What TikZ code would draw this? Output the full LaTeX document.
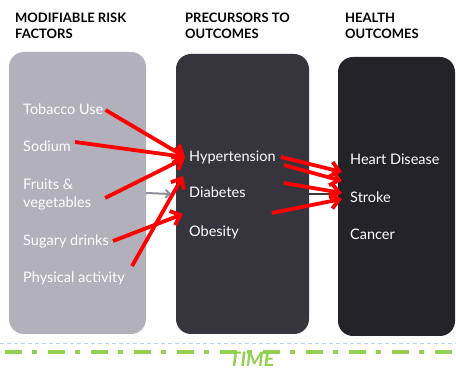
\documentclass[tikz,border=0pt]{standalone}
\usepackage{fontspec}
\setmainfont{Lato}
\usetikzlibrary{arrows.meta}
\definecolor{riskgray}{HTML}{B1B0BB}
\definecolor{precdark}{HTML}{36353E}
\definecolor{outdark}{HTML}{242328}
\definecolor{timegreen}{HTML}{92D050}
\definecolor{guideblue}{HTML}{B9D1E8}
\definecolor{linkgray}{HTML}{8E8D9B}
\definecolor{linkdark}{HTML}{3A3A40}
\begin{document}
\begin{tikzpicture}[x=1pt,y=-1pt,
  panel/.style={rounded corners=15pt, inner sep=0pt, outer sep=0pt},
  head/.style={anchor=north west, font=\bfseries\fontsize{13}{16}\selectfont, align=left, inner sep=0pt},
  item/.style={anchor=base west, text=white, font=\fontsize{14.5}{19}\selectfont, inner sep=0pt},
  redlink/.style={draw=red, line width=3.8pt, -{Straight Barb[length=8.5pt,width=15pt]}},
  graylink/.style={draw=linkgray, line width=2pt, -{Straight Barb[length=4pt,width=8pt]}},
  darklink/.style={draw=linkdark, line width=2pt},
]
\useasboundingbox (0,0) rectangle (456,371);
\fill[white] (0,0) rectangle (456,371);

% column panels
\node[panel, fill=riskgray, minimum width=137pt, minimum height=282pt] (risk) at (77.5,193) {};
\node[panel, fill=precdark, minimum width=133pt, minimum height=280pt] (prec) at (242.5,194) {};
\node[panel, fill=outdark, minimum width=117pt, minimum height=279pt] (outc) at (396.5,196.5) {};

% column headings
\node[head] (h1) at (15,12.5) {MODIFIABLE RISK\\FACTORS};
\node[head] (h2) at (185,12.5) {PRECURSORS TO\\OUTCOMES};
\node[head] (h3) at (345,12.5) {HEALTH\\OUTCOMES};

% modifiable risk factors
\node[item] (tob) at (23,115) {Tobacco Use};
\node[item] (sod) at (23,152) {Sodium};
\node[item] (fru) at (23,190) {Fruits \&};
\node[item] (veg) at (23,208) {vegetables};
\node[item] (sug) at (23,246) {Sugary drinks};
\node[item] (phy) at (23,283) {Physical activity};

% precursors
\node[item] (hyp) at (189,162) {Hypertension};
\node[item] (dia) at (189,198) {Diabetes};
\node[item] (obe) at (189,237) {Obesity};

% outcomes
\node[item] (hea) at (350,165) {Heart Disease};
\node[item] (str) at (350,203) {Stroke};
\node[item] (can) at (350,240) {Cancer};

% links between panels
\draw[graylink] (risk.east) -- ([xshift=-5pt]prec.west);
\draw[darklink] (prec.east) -- (prec.east -| outc.west);

% risk factors to precursors
\draw[redlink] ([xshift=2pt,yshift=5pt]tob.base east) -- ([xshift=-4pt,yshift=5pt]hyp.base west);
\draw[redlink] ([xshift=4pt,yshift=10pt]sod.base east) -- ([xshift=-4pt,yshift=5pt]hyp.base west);
\draw[redlink] ([xshift=14pt,yshift=10pt]veg.base east) -- ([xshift=-4pt,yshift=4pt]hyp.base west);
\draw[redlink] ([xshift=4pt,yshift=5pt]sug.base east) -- ([xshift=-6pt,yshift=23pt]obe.base west);
\draw[redlink] ([xshift=7pt,yshift=17pt]phy.base east) -- ([xshift=-6pt,yshift=22pt]dia.base west);

% precursors to outcomes
\draw[redlink] ([xshift=5pt,yshift=5pt]hyp.base east) -- ([xshift=-8pt,yshift=-7pt]hea.base west);
\draw[redlink] ([xshift=8pt,yshift=-3pt]hyp.base east) -- ([xshift=-8pt,yshift=22pt]str.base west);
\draw[redlink] ([xshift=8pt,yshift=-21pt]hyp.base east) -- ([xshift=-8pt,yshift=10pt]str.base west);
\draw[redlink] ([xshift=26pt,yshift=-15pt]dia.base east) -- ([xshift=-8pt,yshift=4pt]str.base west);

% time axis
\draw[guideblue, line width=0.8pt, dash pattern=on 4pt off 3pt] (0,343) -- (456,343);
\draw[timegreen, line width=3.5pt, dash pattern=on 17pt off 10pt on 5pt off 11pt] (5,352) -- (456,352);
\node[anchor=base, inner sep=0pt, text=timegreen, font=\bfseries\itshape\fontsize{20}{22}\selectfont] (time) at (252,367) {TIME};
\end{tikzpicture}
\end{document}
